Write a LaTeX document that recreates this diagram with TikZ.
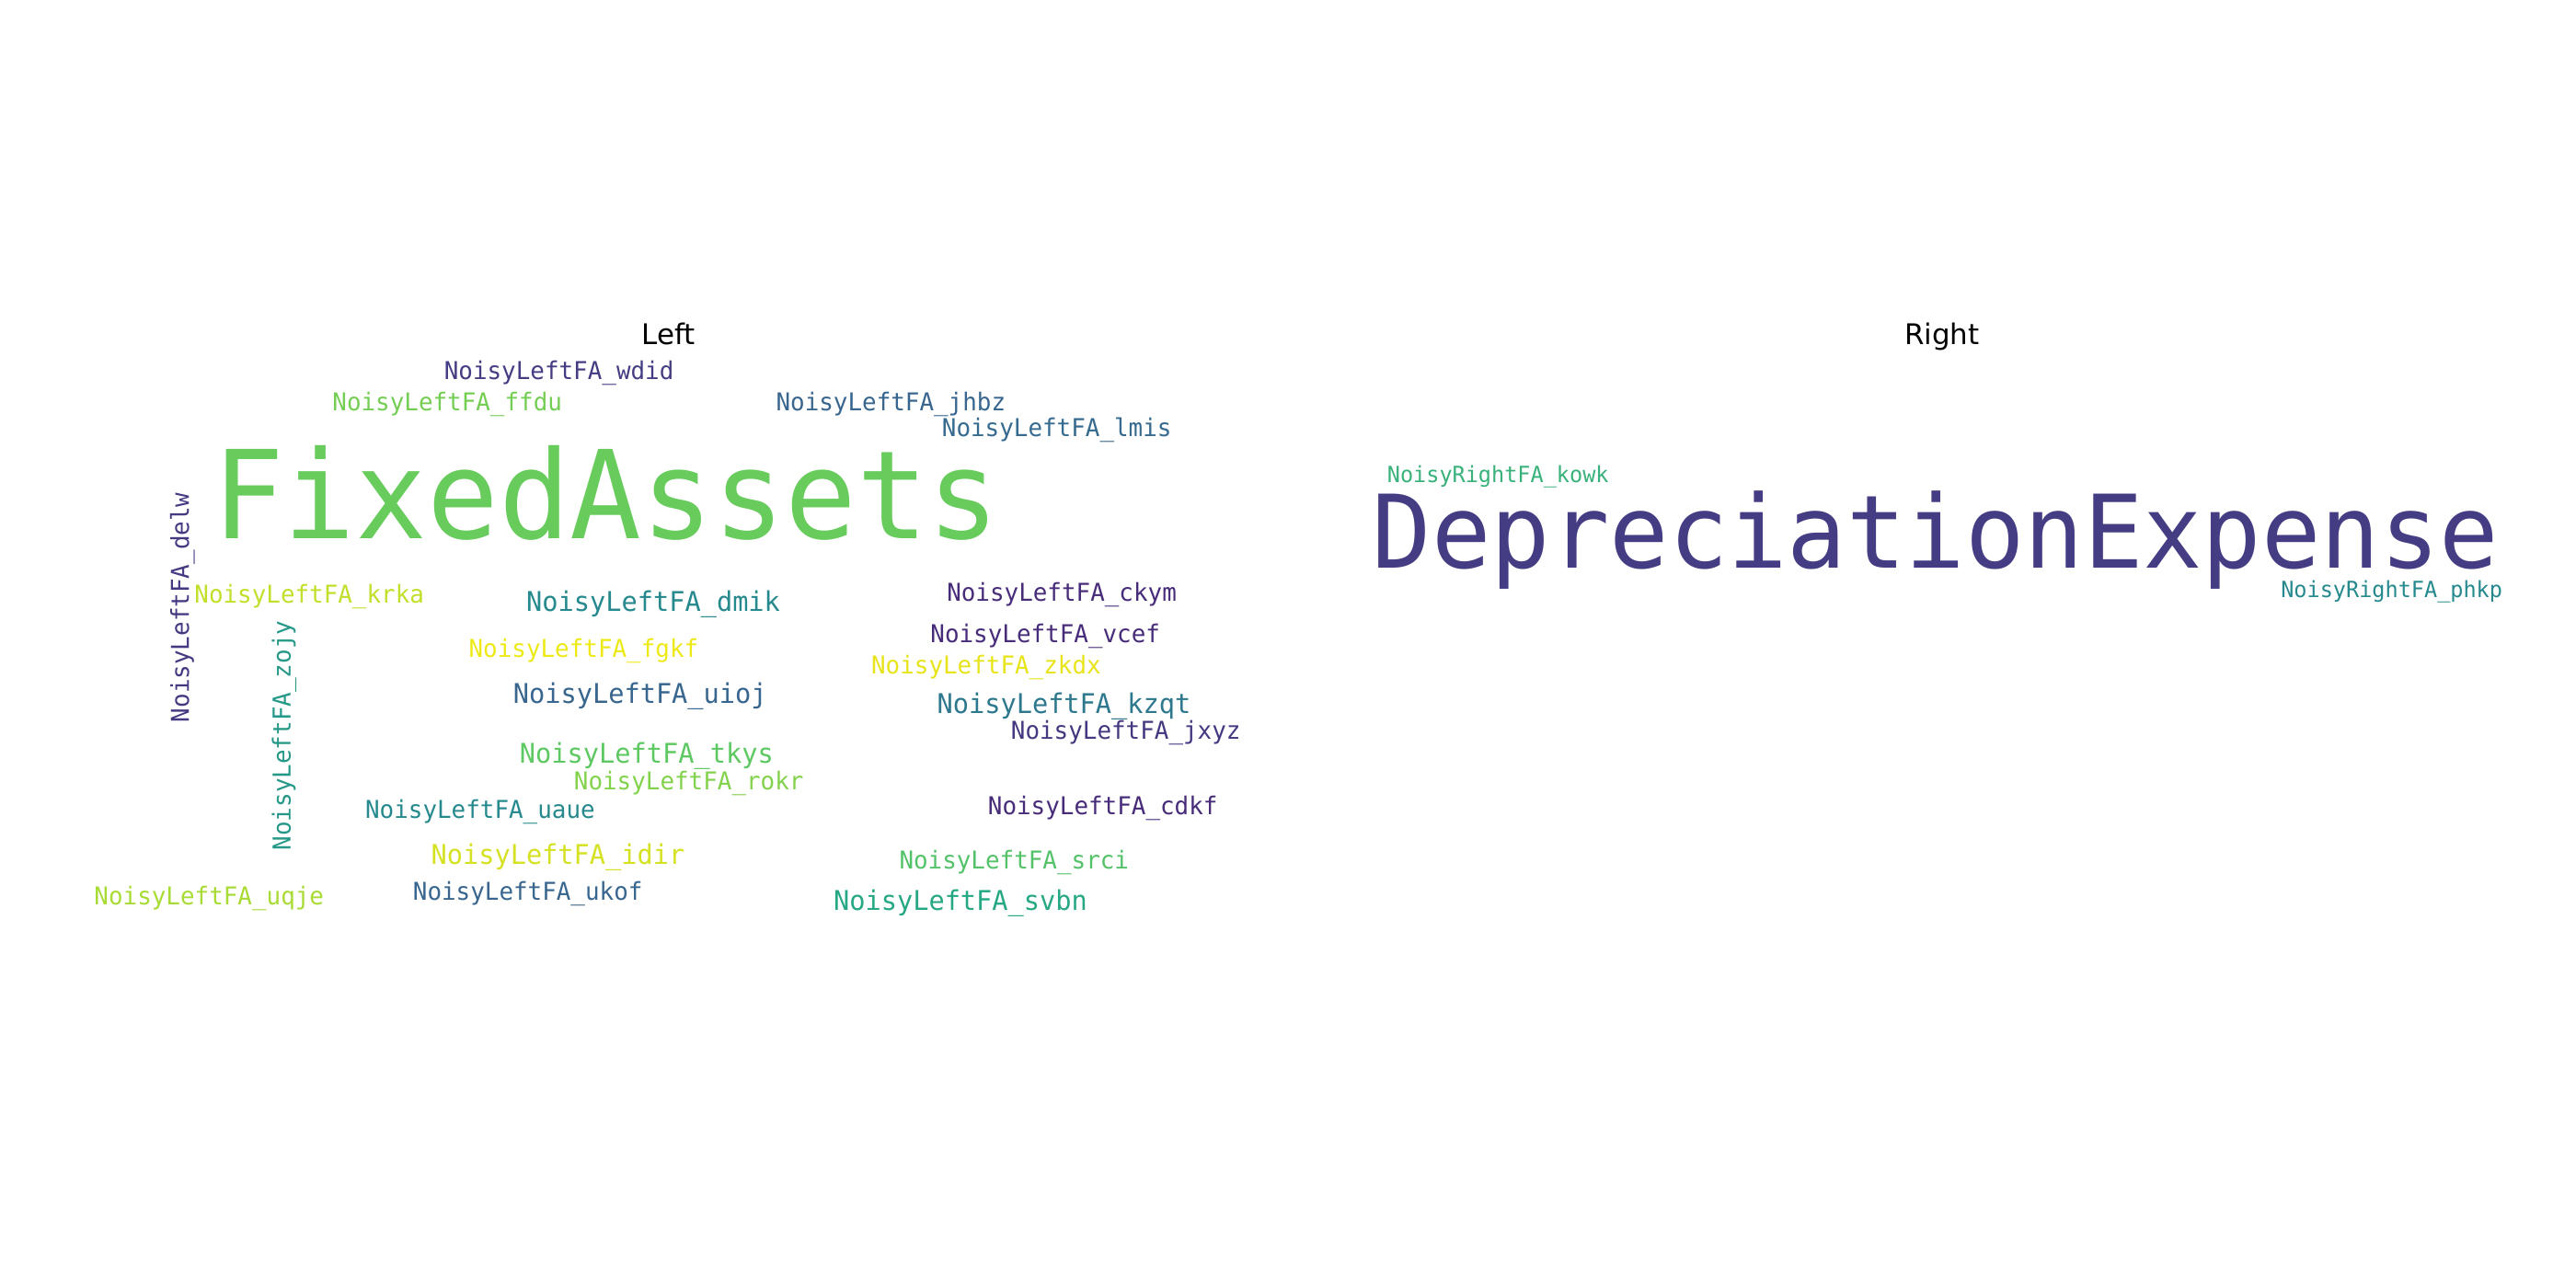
\documentclass[tikz,border=0pt]{standalone}
\usepackage{fontspec}
\newfontfamily\cloudfont[FakeStretch=0.97]{DejaVu Sans Mono}
\newfontfamily\titlefont{DejaVu Sans}
\usepackage{tikz}

\definecolor{vpurple}{HTML}{472C7A}
\definecolor{vindigo}{HTML}{443D84}
\definecolor{vblue}{HTML}{38668E}
\definecolor{vteal}{HTML}{25898D}
\definecolor{vtealgreen}{HTML}{27A884}
\definecolor{vgreen}{HTML}{5EC962}
\definecolor{vlime}{HTML}{A8DB34}
\definecolor{vyellow}{HTML}{E8E41A}
\definecolor{vfixed}{HTML}{67CC5C}

\begin{document}
\begin{tikzpicture}[x=0.17857mm, y=-0.17857mm,
    word/.style={inner sep=0pt, anchor=west, font=\cloudfont\fontsize{#1}{#1}\selectfont},
    word/.default=7.6,
    title/.style={inner sep=0pt, anchor=base, font=\titlefont\fontsize{8.8}{10}\selectfont}]
    \fill[white] (0,0) rectangle (1568,784);
    \useasboundingbox (0,0) rectangle (1568,784);

    % panel titles
    \node[title] (lefttitle) at (407,209.5) {Left};
    \node[title] (righttitle) at (1182,209.5) {Right};

    % left cloud
    \node[word=37.9, text=vfixed] (fixedassets) at (129,300) {FixedAssets};
    \node[word, text=vindigo] (wdid) at (270,227) {NoisyLeftFA\_wdid};
    \node[word, text=vgreen!70!vlime] (ffdu) at (202,246) {NoisyLeftFA\_ffdu};
    \node[word, text=vblue] (jhbz) at (472,246) {NoisyLeftFA\_jhbz};
    \node[word, text=vblue!90!vteal] (lmis) at (573,262) {NoisyLeftFA\_lmis};
    \node[word, text=vindigo!80!vpurple, rotate=90] (delw) at (111,440) {NoisyLeftFA\_delw};
    \node[word, text=vlime!60!vyellow] (krka) at (118,363) {NoisyLeftFA\_krka};
    \node[word, text=vteal!50!vtealgreen, rotate=90] (zojy) at (173,518) {NoisyLeftFA\_zojy};
    \node[word=8.4, text=vteal] (dmik) at (320,368) {NoisyLeftFA\_dmik};
    \node[word, text=vyellow!80!yellow] (fgkf) at (285,396) {NoisyLeftFA\_fgkf};
    \node[word=8.4, text=vblue] (uioj) at (312,424) {NoisyLeftFA\_uioj};
    \node[word=8.4, text=vgreen] (tkys) at (316,460) {NoisyLeftFA\_tkys};
    \node[word, text=vgreen!50!vlime] (rokr) at (349,477) {NoisyLeftFA\_rokr};
    \node[word, text=vteal] (uaue) at (222,494) {NoisyLeftFA\_uaue};
    \node[word=8.4, text=vyellow!70!vlime] (idir) at (262,522) {NoisyLeftFA\_idir};
    \node[word, text=vblue] (ukof) at (251,544) {NoisyLeftFA\_ukof};
    \node[word, text=vlime] (uqje) at (57,547) {NoisyLeftFA\_uqje};
    \node[word, text=vpurple] (ckym) at (576,362) {NoisyLeftFA\_ckym};
    \node[word, text=vpurple] (vcef) at (566,387) {NoisyLeftFA\_vcef};
    \node[word, text=vyellow] (zkdx) at (530,406) {NoisyLeftFA\_zkdx};
    \node[word=8.4, text=vblue!50!vteal] (kzqt) at (570,430) {NoisyLeftFA\_kzqt};
    \node[word, text=vindigo!70!vpurple] (jxyz) at (615,446) {NoisyLeftFA\_jxyz};
    \node[word, text=vpurple] (cdkf) at (601,492) {NoisyLeftFA\_cdkf};
    \node[word, text=vgreen!80!vtealgreen] (srci) at (547,525) {NoisyLeftFA\_srci};
    \node[word=8.4, text=vtealgreen] (svbn) at (507,550) {NoisyLeftFA\_svbn};

    % right cloud
    \node[word=31.4, text=vindigo] (deprexp) at (835,329) {DepreciationExpense};
    \node[word=6.9, text=vtealgreen!70!vgreen] (kowk) at (844,290) {NoisyRightFA\_kowk};
    \node[word=6.9, text=vteal] (phkp) at (1388,360) {NoisyRightFA\_phkp};
\end{tikzpicture}
\end{document}
